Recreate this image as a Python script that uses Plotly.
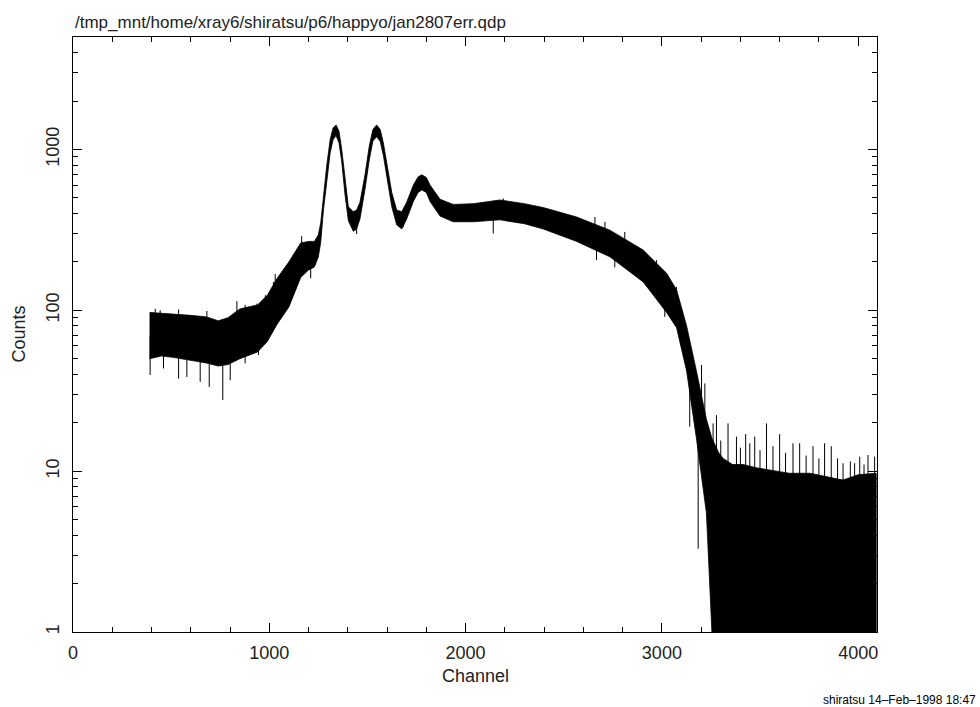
import numpy as np
import plotly.graph_objects as go

# ---- data (counts per channel: dense core band) ----
channel = [390, 450, 510, 600, 680, 740, 790, 850, 940, 990, 1040, 1100, 1160, 1200,
           1230, 1250, 1262, 1276, 1293, 1310, 1325, 1340, 1355, 1369, 1386, 1403,
           1428, 1445, 1462, 1488, 1510, 1528, 1547, 1565, 1581, 1601, 1624, 1649,
           1675, 1700, 1734, 1758, 1777, 1800, 1819, 1870, 1937, 2039, 2175, 2300, 2396, 2566,
           2735, 2905, 3024, 3075, 3126, 3176, 3227, 3255, 3290, 3312, 3360, 3414,
           3480, 3584, 3650, 3754, 3850, 3923, 4000, 4092]
core_high = [97, 96, 95, 93, 91, 86, 90, 102, 108, 124, 158, 200, 262, 268,
             268, 295, 350, 520, 800, 1150, 1360, 1420, 1300, 1000, 640, 440,
             410, 420, 470, 700, 1060, 1330, 1420, 1330, 1100, 790, 540, 420,
             410, 470, 600, 675, 695, 670, 600, 490, 455, 460, 485, 460, 435, 380,
             315, 237, 170, 134, 80, 42, 21, 16, 13, 12, 11, 11,
             10.5, 10, 9.7, 9.7, 9.2, 8.8, 9.5, 9.7]
core_low = [50, 52, 51, 49, 47, 45, 46, 50, 55, 64, 82, 105, 160, 178,
            186, 215, 265, 420, 650, 950, 1150, 1220, 1100, 840, 520, 360,
            310, 320, 370, 570, 870, 1130, 1200, 1120, 920, 650, 440, 340,
            320, 370, 475, 540, 560, 540, 475, 385, 355, 355, 365, 345, 320, 268,
            215, 150, 97, 78, 42, 16, 5.5, 1, 1, 1, 1, 1,
            1, 1, 1, 1, 1, 1, 1, 1]

# individual excursions (channel, low end, high end)
spike_channel = [393, 419, 444, 461, 538, 580, 648, 682, 694, 763, 801, 835, 877, 937,
                 945, 980, 1021, 1030, 1165, 1211, 1445, 1683,
                 2141, 2192, 2659, 2667, 2710, 2760, 2811, 2973, 3015, 3074, 3142,
                 3185, 3202, 3219, 3261, 3278, 3300, 3337, 3380, 3400, 3427, 3448,
                 3473, 3500, 3533, 3566, 3600, 3630, 3668, 3702, 3735, 3770, 3800,
                 3829, 3863, 3895, 3923, 3960, 3982, 4008, 4030, 4050, 4084]
spike_low = [39.6, 70, 70, 43.5, 37.6, 38.5, 35.9, 70, 33.4, 27.7, 36.7, 70, 46.8, 80,
             52.7, 90, 110, 110, 200, 158, 298, 330,
             300, 420, 250, 205, 280, 185, 240, 160, 91, 110, 18.9,
             3.3, 10, 8, 3, 3, 3, 3, 3, 3, 3, 3,
             3, 3, 3, 3, 3, 3, 3, 3, 3, 3, 3,
             3, 3, 3, 3, 3, 3, 3, 3, 3, 3]
spike_high = [70, 102, 100, 70, 101, 70, 70, 99, 60, 60, 70, 114, 108, 110,
              80, 124, 150, 168, 289, 220, 380, 400,
              400, 496, 380, 280, 355, 260, 307, 205, 140, 140, 50,
              25, 45.7, 35.1, 19.8, 22.3, 15.5, 19.8, 16.4, 14.0, 17.0, 14.9,
              16.4, 13.5, 19.8, 14.3, 17.0, 13.0, 14.9, 14.9, 12.5, 14.3, 12.0,
              14.9, 14.3, 12.0, 11.2, 11.5, 11.2, 12.3, 11.0, 12.6, 12.3]

x_ticks = [0, 1000, 2000, 3000, 4000]
y_ticks = [1, 10, 100, 1000]
title_text = "/tmp_mnt/home/xray6/shiratsu/p6/happyo/jan2807err.qdp"
footer_text = "shiratsu 14\u2013Feb\u20131998 18:47"

FONT = "Liberation Sans"

fig = go.Figure()

# dense band (upper envelope, then lower envelope reversed)
fig.add_trace(go.Scatter(
    x=channel + channel[::-1],
    y=core_high + core_low[::-1],
    fill="toself", fillcolor="black",
    line=dict(color="black", width=0.8),
    mode="lines", hoverinfo="skip", showlegend=False))

# excursions as vertical bars
sx, sy = [], []
for c, lo, hi in zip(spike_channel, spike_low, spike_high):
    sx += [c, c, None]
    sy += [lo, hi, None]
fig.add_trace(go.Scatter(x=sx, y=sy, mode="lines",
                         line=dict(color="black", width=1),
                         hoverinfo="skip", showlegend=False))

minor_y = [m * 10 ** d for d in range(0, 4) for m in range(2, 10)]

fig.update_layout(
    width=980, height=707,
    margin=dict(l=73, r=103, t=37, b=75),
    paper_bgcolor="white", plot_bgcolor="white",
    font=dict(family=FONT, size=18, color="black"),
    showlegend=False,
    xaxis=dict(range=[0, 4096], tickmode="array", tickvals=x_ticks,
               ticks="inside", ticklen=9, tickwidth=1, tickcolor="black",
               showline=True, linecolor="black", linewidth=1, mirror="ticks",
               showgrid=False, zeroline=False,
               tickfont=dict(family=FONT, size=18, color="#222"),
               ticklabelstandoff=4,
               minor=dict(dtick=200, tick0=0, ticks="inside", ticklen=5,
                          tickcolor="black", showgrid=False)),
    yaxis=dict(type="log", range=[0, np.log10(5000)], tickmode="array",
               tickvals=y_ticks, ticktext=[str(v) for v in y_ticks],
               ticks="inside", ticklen=9, tickwidth=1, tickcolor="black",
               showline=True, linecolor="black", linewidth=1, mirror="ticks",
               showgrid=False, zeroline=False, tickangle=-90,
               tickfont=dict(family=FONT, size=18, color="#222"),
               ticklabelstandoff=6,
               minor=dict(tickmode="array", tickvals=minor_y, ticks="inside",
                          ticklen=5, tickcolor="black", showgrid=False)),
)

fig.add_annotation(text=title_text, xref="paper", yref="paper", x=0, y=1,
                   xanchor="left", yanchor="bottom", yshift=3, showarrow=False,
                   font=dict(family=FONT, size=17, color="#222"))
fig.add_annotation(text="Channel", xref="paper", yref="paper", x=0.5, y=-0.074,
                   xanchor="center", yanchor="middle", showarrow=False,
                   font=dict(family=FONT, size=18, color="#222"))
fig.add_annotation(text="Counts", xref="paper", yref="paper", x=-0.0684, y=0.5,
                   xanchor="center", yanchor="middle", textangle=-90, showarrow=False,
                   font=dict(family=FONT, size=18, color="#222"))
fig.add_annotation(text=footer_text, xref="paper", yref="paper", x=1.1256, y=-0.114,
                   xanchor="right", yanchor="middle", showarrow=False,
                   font=dict(family=FONT, size=12, color="black"))

fig.write_html("out.html")
